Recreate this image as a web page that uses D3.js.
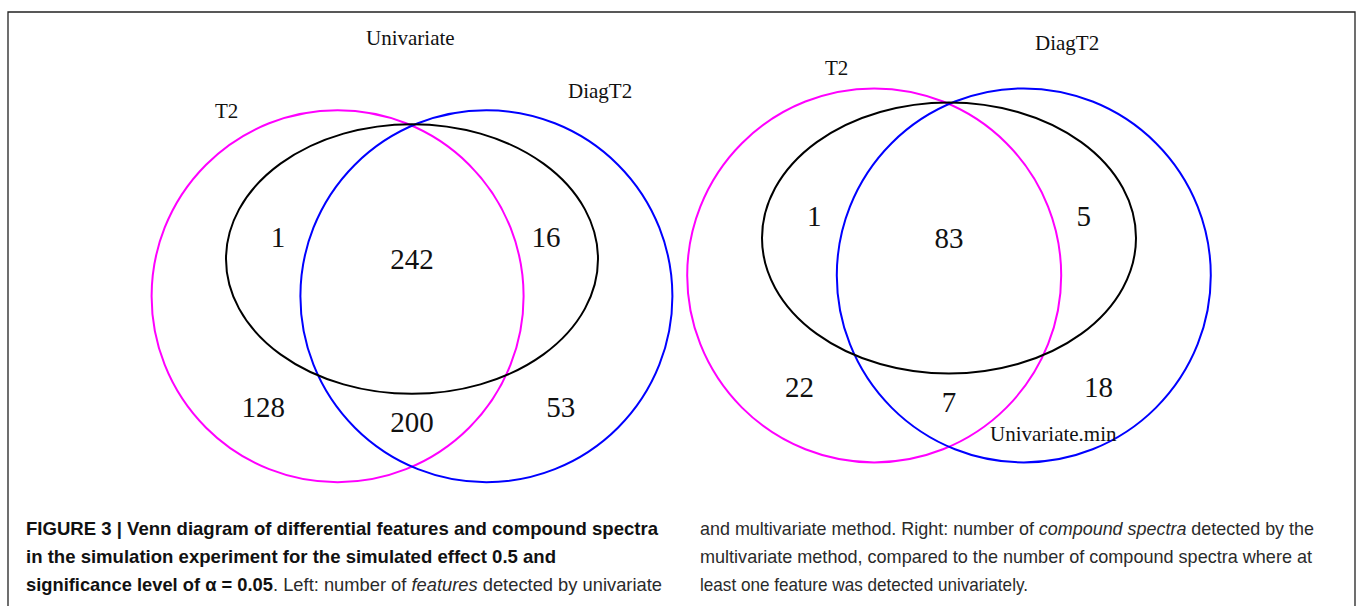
<!DOCTYPE html>
<html>
<head>
<meta charset="utf-8">
<script src="https://cdn.jsdelivr.net/npm/d3@7"></script>
<style>
  body { margin: 0; background: #fff; }
  svg { display: block; }
  .set-label { font-family: "Liberation Serif", "Times New Roman", serif; font-size: 21px; fill: #111; }
  .count { font-family: "Liberation Serif", "Times New Roman", serif; font-size: 29px; fill: #111; text-anchor: middle; }
  .caption { font-family: "Liberation Sans Narrow", "Arial Narrow", "Liberation Sans", sans-serif; font-size: 19px; fill: #2a2a2a; }
  .caption .b { font-weight: bold; fill: #111; }
</style>
</head>
<body>
<script>
// ---- data ----
const leftSets = ["T2", "DiagT2", "Univariate"];
const leftRegions = ["T2 & Univariate", "all three", "DiagT2 & Univariate", "T2 only", "T2 & DiagT2", "DiagT2 only"];
const leftCounts = [1, 242, 16, 128, 200, 53];

const rightSets = ["T2", "DiagT2", "Univariate.min"];
const rightRegions = ["T2 & Univariate.min", "all three", "DiagT2 & Univariate.min", "T2 only", "T2 & DiagT2", "DiagT2 only"];
const rightCounts = [1, 83, 5, 22, 7, 18];

const captionLeft = [
  [["b", "FIGURE 3 | Venn diagram of differential features and compound spectra"]],
  [["b", "in the simulation experiment for the simulated effect 0.5 and"]],
  [["b", "significance level of \u03b1 = 0.05"], ["n", ". Left: number of "], ["i", "features"], ["n", " detected by univariate"]]
];
const captionRight = [
  [["n", "and multivariate method. Right: number of "], ["i", "compound spectra"], ["n", " detected by the"]],
  [["n", "multivariate method, compared to the number of compound spectra where at"]],
  [["n", "least one feature was detected univariately."]]
];

// ---- layout ----
const W = 1358, H = 606;
const setColors = ["#ff00ff", "#0000ff", "#000000"];

// shapes in a unit frame, then mapped to each panel with scales
const shapeUnits = [
  {cx: -0.40, cy: 0.20, rx: 1.0, ry: 1.0},
  {cx: 0.40, cy: 0.20, rx: 1.0, ry: 1.0},
  {cx: 0.00, cy: 0.00, rx: 1.0, ry: 0.725}
];
const countUnits = [
  {x: -0.72, y: -0.118}, {x: 0.0, y: 0.0}, {x: 0.72, y: -0.118},
  {x: -0.80, y: 0.80}, {x: 0.0, y: 0.88}, {x: 0.80, y: 0.80}
];

const panels = [
  {sets: leftSets, counts: leftCounts, regions: leftRegions, cx: 412, cy: 259, r: 186,
   labels: [{x: 215, y: 118}, {x: 568, y: 98}, {x: 366, y: 45}]},
  {sets: rightSets, counts: rightCounts, regions: rightRegions, cx: 949, cy: 238, r: 187,
   labels: [{x: 825, y: 75}, {x: 1035, y: 50}, {x: 990, y: 441}]}
];

const svg = d3.select("body").append("svg")
  .attr("width", W).attr("height", H);

// frame (open at bottom)
svg.append("path")
  .attr("d", "M8," + H + "V12H1355V" + H)
  .attr("fill", "none").attr("stroke", "#222").attr("stroke-width", 1.3);

panels.forEach(p => {
  const x = d3.scaleLinear().domain([-1, 1]).range([p.cx - p.r, p.cx + p.r]);
  const y = d3.scaleLinear().domain([-1, 1]).range([p.cy - p.r, p.cy + p.r]);
  const g = svg.append("g");

  g.selectAll("ellipse")
    .data(shapeUnits)
    .enter().append("ellipse")
    .attr("cx", d => x(d.cx))
    .attr("cy", d => y(d.cy))
    .attr("rx", d => x(d.rx) - x(0))
    .attr("ry", d => y(d.ry) - y(0))
    .attr("fill", "none")
    .attr("stroke", (d, i) => setColors[i])
    .attr("stroke-width", 2);

  g.selectAll(".count")
    .data(p.counts)
    .enter().append("text")
    .attr("class", "count")
    .attr("x", (d, i) => x(countUnits[i].x))
    .attr("y", (d, i) => y(countUnits[i].y))
    .attr("dy", "0.33em")
    .text(d => d);

  g.selectAll(".set-label")
    .data(p.sets)
    .enter().append("text")
    .attr("class", "set-label")
    .attr("x", (d, i) => p.labels[i].x)
    .attr("y", (d, i) => p.labels[i].y)
    .text(d => d);
});

// caption, each line fitted to the width it takes in the print
function caption(lines, x0, widths) {
  lines.forEach((parts, li) => {
    const t = svg.append("text")
      .attr("class", "caption")
      .attr("x", x0)
      .attr("y", 535 + li * 28)
      .attr("textLength", widths[li])
      .attr("lengthAdjust", "spacingAndGlyphs");
    parts.forEach(pt => {
      const s = t.append("tspan").text(pt[1]);
      if (pt[0] == "b") s.attr("class", "b");
      if (pt[0] == "i") s.attr("font-style", "italic");
    });
  });
}
caption(captionLeft, 26, [632, 530, 636]);
caption(captionRight, 700, [614, 612, 328]);
</script>
</body>
</html>
